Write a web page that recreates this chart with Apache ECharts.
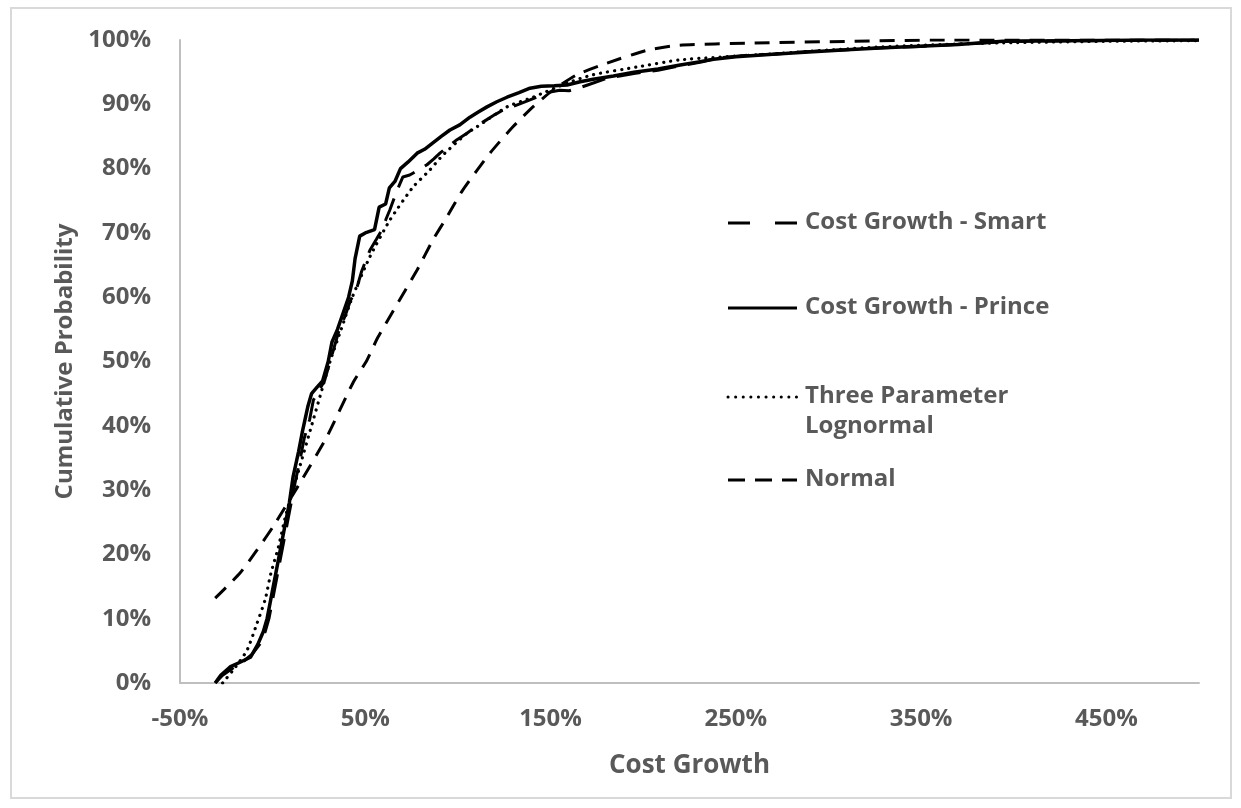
<!DOCTYPE html>
<html>
<head>
<meta charset="utf-8">
<script src="https://cdn.jsdelivr.net/npm/echarts@6/dist/echarts.min.js"></script>
<style>
  html, body { margin: 0; padding: 0; background: #fff; }
  #chart { width: 1241px; height: 808px; }
</style>
</head>
<body>
<div id="chart"></div>
<script>
// Cost Growth - Smart (empirical)
const smartX = [-0.31, -0.27, -0.22, -0.16, -0.11, -0.07, -0.04, -0.02, 0.0, 0.02, 0.04, 0.06, 0.08, 0.10, 0.12, 0.15, 0.17, 0.20, 0.22, 0.25, 0.28, 0.31, 0.33, 0.36, 0.39, 0.42, 0.45, 0.48, 0.50, 0.525, 0.56, 0.58, 0.61, 0.633, 0.67, 0.703, 0.74, 0.77, 0.80, 0.833, 0.87, 0.903, 0.95, 0.995, 1.049, 1.10, 1.15, 1.20, 1.243, 1.31, 1.389, 1.45, 1.497, 1.55, 1.60, 1.65, 1.70, 1.80, 1.95, 2.08, 2.20, 2.32, 2.40, 2.55, 2.70, 2.90, 3.10, 3.30, 3.50, 3.75, 4.00, 4.40, 5.00];
const smartY = [0.0, 0.012, 0.022, 0.033, 0.045, 0.06, 0.08, 0.10, 0.13, 0.16, 0.19, 0.22, 0.25, 0.28, 0.31, 0.35, 0.38, 0.41, 0.44, 0.455, 0.47, 0.50, 0.52, 0.55, 0.57, 0.595, 0.61, 0.64, 0.655, 0.673, 0.69, 0.70, 0.72, 0.736, 0.765, 0.787, 0.79, 0.795, 0.80, 0.806, 0.815, 0.824, 0.835, 0.845, 0.855, 0.866, 0.875, 0.884, 0.891, 0.898, 0.907, 0.914, 0.919, 0.922, 0.921, 0.925, 0.93, 0.94, 0.948, 0.953, 0.96, 0.966, 0.972, 0.976, 0.978, 0.982, 0.985, 0.988, 0.99, 0.994, 0.998, 0.999, 1.0];

// Cost Growth - Prince (empirical)
const princeX = [-0.31, -0.28, -0.23, -0.17, -0.12, -0.08, -0.05, -0.03, -0.01, 0.01, 0.03, 0.05, 0.07, 0.09, 0.11, 0.14, 0.16, 0.19, 0.21, 0.24, 0.27, 0.30, 0.32, 0.35, 0.38, 0.41, 0.43, 0.445, 0.47, 0.50, 0.55, 0.575, 0.61, 0.63, 0.66, 0.69, 0.73, 0.78, 0.82, 0.865, 0.91, 0.957, 1.01, 1.065, 1.11, 1.157, 1.21, 1.265, 1.33, 1.389, 1.45, 1.52, 1.589, 1.66, 1.73, 1.84, 1.95, 2.08, 2.20, 2.30, 2.38, 2.50, 2.70, 2.87, 3.10, 3.30, 3.46, 3.70, 3.94, 4.30, 4.70, 5.00];
const princeY = [0.0, 0.012, 0.025, 0.033, 0.04, 0.06, 0.08, 0.10, 0.13, 0.16, 0.19, 0.22, 0.25, 0.28, 0.32, 0.36, 0.39, 0.43, 0.45, 0.46, 0.47, 0.50, 0.53, 0.55, 0.575, 0.60, 0.625, 0.66, 0.695, 0.70, 0.705, 0.74, 0.745, 0.77, 0.78, 0.80, 0.81, 0.824, 0.83, 0.84, 0.85, 0.86, 0.868, 0.88, 0.888, 0.896, 0.904, 0.911, 0.918, 0.925, 0.928, 0.929, 0.93, 0.935, 0.939, 0.944, 0.95, 0.955, 0.961, 0.966, 0.97, 0.974, 0.978, 0.981, 0.985, 0.988, 0.99, 0.993, 0.998, 0.999, 1.0, 1.0];

// Three Parameter Lognormal (fit)
const lognormX = [-0.27, -0.2, -0.138, -0.084, -0.04, -0.01, 0.03, 0.07, 0.11, 0.15, 0.21, 0.26, 0.31, 0.37, 0.43, 0.525, 0.633, 0.757, 0.849, 0.919, 1.049, 1.103, 1.265, 1.405, 1.589, 1.729, 1.966, 2.198, 2.673, 3.262, 3.844, 4.5, 5.0];
const lognormY = [0.0, 0.025, 0.051, 0.093, 0.13, 0.17, 0.21, 0.26, 0.30, 0.34, 0.40, 0.45, 0.50, 0.55, 0.60, 0.663, 0.72, 0.771, 0.798, 0.821, 0.855, 0.865, 0.896, 0.911, 0.933, 0.946, 0.958, 0.969, 0.978, 0.989, 0.995, 0.998, 0.999];

// Normal (fit)
const normalX = [-0.31, -0.176, -0.084, 0.002, 0.164, 0.293, 0.434, 0.509, 0.569, 0.779, 0.865, 0.941, 1.027, 1.173, 1.297, 1.405, 1.513, 1.642, 1.804, 2.02, 2.198, 2.576, 3.116, 3.6, 5.0];
const normalY = [0.132, 0.171, 0.207, 0.243, 0.319, 0.383, 0.467, 0.502, 0.538, 0.642, 0.689, 0.725, 0.767, 0.824, 0.865, 0.896, 0.922, 0.946, 0.964, 0.984, 0.992, 0.995, 0.998, 1.0, 1.0];

const legendNames = ['Cost Growth - Smart', 'Cost Growth - Prince', 'Three Parameter\nLognormal', 'Normal'];

const font = '"Open Sans", "Noto Sans", sans-serif';
const textColor = '#595959';

function pairs(xs, ys) {
  return xs.map((x, i) => [x, ys[i]]);
}

const lineStyles = [
  { color: '#000', width: 3, type: [24, 12], cap: 'butt' },
  { color: '#000', width: 3.5, type: 'solid' },
  { color: '#000', width: 3.2, type: [0.1, 7], cap: 'round' },
  { color: '#000', width: 3, type: [15, 10], cap: 'butt' }
];
const seriesData = [
  pairs(smartX, smartY),
  pairs(princeX, princeY),
  pairs(lognormX, lognormY),
  pairs(normalX, normalY)
];

// legend drawn by hand so the two-line entry lines up like the original
const legendRows = [223, 308, 397, 480];
const legendGraphics = [];
legendNames.forEach((name, i) => {
  legendGraphics.push({
    type: 'line',
    shape: { x1: 728, y1: legendRows[i], x2: 797, y2: legendRows[i] },
    style: {
      stroke: '#000',
      lineWidth: 3,
      lineDash: i === 0 ? [22, 25] : i === 2 ? [0.1, 7.5] : i === 3 ? [17, 10] : null,
      lineCap: i === 2 ? 'round' : 'butt'
    }
  });
  legendGraphics.push({
    type: 'text',
    x: 805,
    y: legendRows[i] - 16,
    style: {
      text: name,
      fill: textColor,
      font: 'bold 24px ' + font,
      lineHeight: 30,
      verticalAlign: 'top'
    }
  });
});

const chart = echarts.init(document.getElementById('chart'));
chart.setOption({
  backgroundColor: '#fff',
  animation: false,
  grid: { left: 180, right: 42, top: 40, bottom: 125 },
  xAxis: {
    type: 'value',
    min: -0.5,
    max: 5,
    interval: 1,
    name: 'Cost Growth',
    nameLocation: 'middle',
    nameGap: 70,
    nameTextStyle: { color: textColor, fontSize: 26, fontWeight: 'bold', fontFamily: font },
    axisLine: { show: true, onZero: false, lineStyle: { color: '#bfbfbf', width: 2 } },
    axisTick: { show: false },
    splitLine: { show: false },
    axisLabel: {
      color: textColor,
      fontSize: 24,
      fontWeight: 'bold',
      fontFamily: font,
      margin: 24,
      showMaxLabel: false,
      formatter: (v) => Math.round(v * 100) + '%'
    }
  },
  yAxis: {
    type: 'value',
    min: 0,
    max: 1,
    interval: 0.1,
    name: 'Cumulative Probability',
    nameLocation: 'middle',
    nameGap: 102,
    nameTextStyle: { color: textColor, fontSize: 24, fontWeight: 'bold', fontFamily: font },
    axisLine: { show: true, onZero: false, lineStyle: { color: '#bfbfbf', width: 2 } },
    axisTick: { show: false },
    splitLine: { show: false },
    axisLabel: {
      color: textColor,
      fontSize: 24,
      fontWeight: 'bold',
      fontFamily: font,
      margin: 29,
      formatter: (v) => Math.round(v * 100) + '%'
    }
  },
  graphic: [
    {
      type: 'rect',
      shape: { x: 11, y: 8, width: 1220, height: 790 },
      style: { fill: 'none', stroke: '#d9d9d9', lineWidth: 2 },
      silent: true
    }
  ].concat(legendGraphics),
  series: legendNames.map((name, i) => ({
    name: name.replace('\n', ' '),
    type: 'line',
    data: seriesData[i],
    symbol: 'none',
    smooth: i >= 2 ? 0.2 : false,
    lineStyle: lineStyles[i]
  }))
});
</script>
</body>
</html>
